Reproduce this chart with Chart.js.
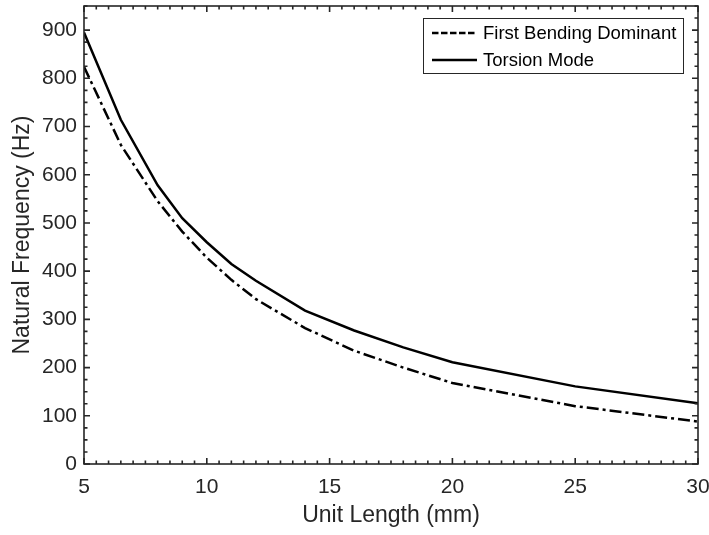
<!DOCTYPE html>
<html>
<head>
<meta charset="utf-8">
<script src="https://cdn.jsdelivr.net/npm/chart.js@4.4.0/dist/chart.umd.min.js"></script>
<style>
  html, body { margin: 0; padding: 0; background: #ffffff; }
  #wrap { width: 709px; height: 535px; position: relative; }
</style>
</head>
<body>
<div id="wrap"><canvas id="c" width="709" height="535"></canvas></div>
<script>
// Natural frequency of the unit versus its length
const unitLength   = [5, 6.5, 8, 9, 10, 11, 12, 14, 16, 18, 20, 25, 30];
const firstBending = [824, 662, 545, 482, 428, 382, 342, 282, 235, 200, 168, 120, 88];
const torsionMode  = [895, 714, 578, 510, 460, 415, 380, 318, 277, 242, 211, 161, 126];
const seriesNames  = ['First Bending Dominant', 'Torsion Mode'];
const xTickValues  = [5, 10, 15, 20, 25, 30];
const yTickValues  = [0, 100, 200, 300, 400, 500, 600, 700, 800, 900];

const AXIS_COLOR = '#262626';
const FONT = '"Liberation Sans", Arial, Helvetica, sans-serif';
const DASH_DOT = [12, 4, 3, 4];

// Axes box with inward major/minor ticks on all four sides
const boxTicks = {
  id: 'boxTicks',
  afterDatasetsDraw(chart) {
    const { ctx, chartArea: { left, right, top, bottom }, scales: { x, y } } = chart;
    ctx.save();
    ctx.strokeStyle = AXIS_COLOR;
    ctx.lineWidth = 1.6;
    ctx.beginPath();
    const nx = Math.round((x.max - x.min) / 0.5);
    for (let i = 0; i <= nx; i++) {
      const v = x.min + i * 0.5;
      const px = x.getPixelForValue(v);
      const len = (i % 10 === 0) ? 6 : 3.5;
      ctx.moveTo(px, bottom); ctx.lineTo(px, bottom - len);
      ctx.moveTo(px, top);    ctx.lineTo(px, top + len);
    }
    const ny = Math.round((y.max - y.min) / 25);
    for (let i = 0; i <= ny; i++) {
      const v = y.min + i * 25;
      const py = y.getPixelForValue(v);
      const len = (i % 4 === 0) ? 6 : 3.5;
      ctx.moveTo(left, py);  ctx.lineTo(left + len, py);
      ctx.moveTo(right, py); ctx.lineTo(right - len, py);
    }
    ctx.stroke();
    ctx.strokeRect(left, top, right - left, bottom - top);
    ctx.restore();
  }
};

// Boxed legend in the upper-right corner of the plot
const boxLegend = {
  id: 'boxLegend',
  afterDraw(chart) {
    const { ctx, chartArea: { right, top } } = chart;
    const bx = right - 275, by = top + 12, bw = 260, bh = 55;
    ctx.save();
    ctx.fillStyle = '#ffffff';
    ctx.fillRect(bx, by, bw, bh);
    ctx.strokeStyle = AXIS_COLOR;
    ctx.lineWidth = 1;
    ctx.strokeRect(bx + 0.5, by + 0.5, bw, bh);
    ctx.font = '18.5px ' + FONT;
    ctx.textBaseline = 'middle';
    ctx.textAlign = 'left';
    chart.data.datasets.forEach((ds, i) => {
      const ly = by + 15 + i * 27;
      ctx.strokeStyle = ds.borderColor;
      ctx.lineWidth = ds.borderWidth;
      ctx.setLineDash(ds.borderDash && ds.borderDash.length ? [6.5, 2.5] : []);
      ctx.beginPath();
      ctx.moveTo(bx + 9, ly);
      ctx.lineTo(bx + 54, ly);
      ctx.stroke();
      ctx.setLineDash([]);
      ctx.fillStyle = '#000000';
      ctx.fillText(ds.label, bx + 60, ly + 1);
    });
    ctx.restore();
  }
};

new Chart(document.getElementById('c'), {
  type: 'line',
  data: {
    datasets: [
      {
        label: seriesNames[0],
        data: unitLength.map((u, i) => ({ x: u, y: firstBending[i] })),
        borderColor: '#000000',
        borderWidth: 2.5,
        borderDash: DASH_DOT,
        pointRadius: 0,
        tension: 0,
        fill: false
      },
      {
        label: seriesNames[1],
        data: unitLength.map((u, i) => ({ x: u, y: torsionMode[i] })),
        borderColor: '#000000',
        borderWidth: 2.5,
        borderDash: [],
        pointRadius: 0,
        tension: 0,
        fill: false
      }
    ]
  },
  options: {
    responsive: false,
    animation: false,
    devicePixelRatio: 1,
    layout: { padding: { left: 0, right: 11, top: 6, bottom: 0 } },
    plugins: { legend: { display: false }, tooltip: { enabled: false } },
    scales: {
      x: {
        type: 'linear',
        min: 5,
        max: 30,
        afterBuildTicks: s => { s.ticks = xTickValues.map(v => ({ value: v })); },
        afterFit: s => { s.height = 71; s.paddingLeft = 0; s.paddingRight = 0; },
        grid: { display: false, drawTicks: false },
        border: { display: false },
        ticks: { color: AXIS_COLOR, font: { family: FONT, size: 21 }, padding: 11, maxRotation: 0, autoSkip: false },
        title: {
          display: true,
          text: 'Unit Length (mm)',
          color: AXIS_COLOR,
          font: { family: FONT, size: 23 },
          padding: { top: 0, bottom: 6 }
        }
      },
      y: {
        type: 'linear',
        min: 0,
        max: 950,
        afterBuildTicks: s => { s.ticks = yTickValues.map(v => ({ value: v })); },
        afterFit: s => { s.width = 84; s.paddingTop = 0; s.paddingBottom = 0; },
        grid: { display: false, drawTicks: false },
        border: { display: false },
        ticks: { color: AXIS_COLOR, font: { family: FONT, size: 21 }, padding: 7, autoSkip: false },
        title: {
          display: true,
          text: 'Natural Frequency (Hz)',
          color: AXIS_COLOR,
          font: { family: FONT, size: 23 },
          padding: { top: 9, bottom: 0 }
        }
      }
    }
  },
  plugins: [boxTicks, boxLegend]
});
</script>
</body>
</html>
